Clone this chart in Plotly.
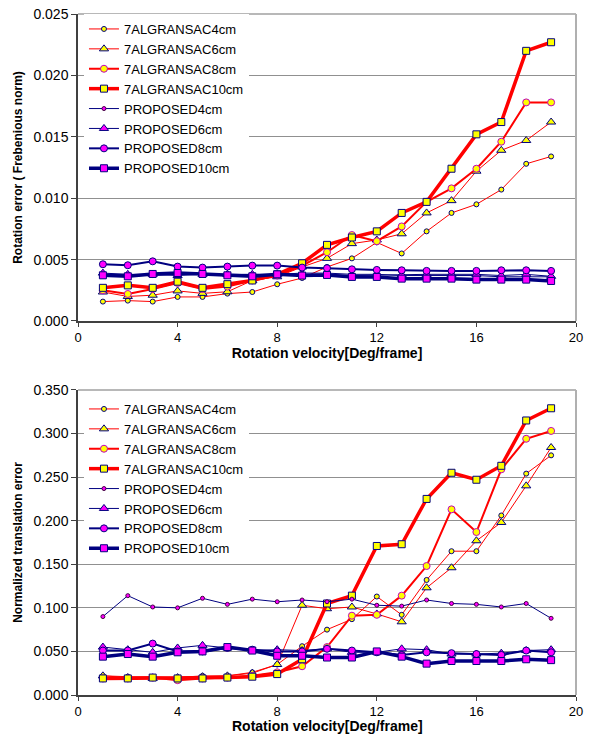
import plotly.graph_objects as go

# ---------------- data ----------------
velocity = list(range(1, 20))

series_names = ["7ALGRANSAC4cm", "7ALGRANSAC6cm", "7ALGRANSAC8cm", "7ALGRANSAC10cm",
                "PROPOSED4cm", "PROPOSED6cm", "PROPOSED8cm", "PROPOSED10cm"]

rot_alg4 = [0.00158, 0.00166, 0.00158, 0.00196, 0.00196, 0.00223, 0.00236, 0.00299, 0.0035, 0.0044,
            0.0051, 0.0064, 0.0055, 0.0073, 0.0088, 0.0095, 0.0107, 0.0128, 0.0134]
rot_alg6 = [0.00236, 0.0020, 0.0021, 0.00245, 0.00225, 0.00238, 0.0033, 0.0036, 0.0044, 0.0051,
            0.0063, 0.0066, 0.0071, 0.0088, 0.0098, 0.0122, 0.0139, 0.0147, 0.0162]
rot_alg8 = [0.0025, 0.0022, 0.0026, 0.0031, 0.0026, 0.0028, 0.0033, 0.0037, 0.0045, 0.0056,
            0.0070, 0.0065, 0.0077, 0.0097, 0.0108, 0.0124, 0.0146, 0.0178, 0.0178]
rot_alg10 = [0.0027, 0.0029, 0.0027, 0.0032, 0.0027, 0.0030, 0.0033, 0.0038, 0.0047, 0.0062,
             0.0068, 0.0073, 0.0088, 0.0097, 0.0124, 0.0152, 0.0162, 0.0220, 0.0227]
rot_p4 = [0.0038, 0.0038, 0.0037, 0.0038, 0.0038, 0.0037, 0.0038, 0.0038, 0.0039, 0.0039,
          0.0038, 0.0038, 0.0037, 0.0037, 0.0037, 0.0037, 0.0036, 0.0036, 0.0036]
rot_p6 = [0.0039, 0.0038, 0.0038, 0.0037, 0.0038, 0.0038, 0.0038, 0.0038, 0.0038, 0.0038,
          0.0037, 0.00375, 0.00375, 0.0038, 0.0038, 0.0038, 0.0037, 0.0038, 0.00364]
rot_p8 = [0.00462, 0.00454, 0.00486, 0.00443, 0.00435, 0.00443, 0.00451, 0.00451, 0.00435, 0.0043,
          0.00421, 0.00416, 0.00413, 0.00408, 0.00408, 0.00408, 0.00413, 0.00413, 0.00408]
rot_p10 = [0.00372, 0.00364, 0.00383, 0.00391, 0.00383, 0.00372, 0.00364, 0.0038, 0.0037, 0.00375,
           0.00359, 0.00359, 0.00345, 0.00345, 0.00345, 0.00337, 0.00337, 0.00337, 0.00326]

tr_alg4 = [0.022, 0.021, 0.021, 0.020, 0.022, 0.022, 0.026, 0.035, 0.056, 0.075,
           0.087, 0.113, 0.092, 0.132, 0.165, 0.165, 0.206, 0.254, 0.275]
tr_alg6 = [0.022, 0.020, 0.019, 0.020, 0.021, 0.022, 0.025, 0.035, 0.103, 0.099,
           0.101, 0.093, 0.084, 0.123, 0.146, 0.177, 0.198, 0.240, 0.284]
tr_alg8 = [0.019, 0.019, 0.020, 0.017, 0.019, 0.020, 0.022, 0.026, 0.033, 0.055,
           0.091, 0.092, 0.114, 0.148, 0.213, 0.187, 0.259, 0.294, 0.303]
tr_alg10 = [0.019, 0.019, 0.020, 0.019, 0.019, 0.020, 0.021, 0.024, 0.041, 0.105,
            0.114, 0.171, 0.173, 0.225, 0.255, 0.247, 0.263, 0.315, 0.329]
tr_p4 = [0.090, 0.114, 0.101, 0.100, 0.111, 0.104, 0.110, 0.107, 0.109, 0.107,
         0.110, 0.103, 0.102, 0.109, 0.105, 0.104, 0.101, 0.105, 0.088]
tr_p6 = [0.055, 0.052, 0.049, 0.054, 0.057, 0.054, 0.051, 0.052, 0.051, 0.053,
         0.049, 0.049, 0.053, 0.052, 0.047, 0.047, 0.048, 0.051, 0.052]
tr_p8 = [0.051, 0.051, 0.059, 0.050, 0.050, 0.054, 0.052, 0.050, 0.050, 0.053,
         0.051, 0.049, 0.046, 0.049, 0.048, 0.047, 0.046, 0.051, 0.049]
tr_p10 = [0.044, 0.047, 0.044, 0.049, 0.050, 0.055, 0.051, 0.045, 0.045, 0.043,
          0.043, 0.050, 0.044, 0.036, 0.039, 0.039, 0.039, 0.041, 0.040]

x_ticks = [0, 4, 8, 12, 16, 20]
rot_ticks = [0.000, 0.005, 0.010, 0.015, 0.020, 0.025]
tr_ticks = [0.000, 0.050, 0.100, 0.150, 0.200, 0.250, 0.300, 0.350]

x_title = "Rotation velocity[Deg/frame]"

# ---------------- styles ----------------
RED = "#FF0000"
NAVY = "#000080"
YEL = "#FFFF00"
MAG = "#FF00FF"
styles = [
    dict(line=dict(color=RED, width=1), marker=dict(symbol="circle", size=5, color=YEL, line=dict(color=NAVY, width=1))),
    dict(line=dict(color=RED, width=1), marker=dict(symbol="triangle-up", size=8, color=YEL, line=dict(color=NAVY, width=1))),
    dict(line=dict(color=RED, width=2), marker=dict(symbol="circle", size=7, color=YEL, line=dict(color="#C000C0", width=1))),
    dict(line=dict(color=RED, width=3.5), marker=dict(symbol="square", size=7, color=YEL, line=dict(color=NAVY, width=1))),
    dict(line=dict(color=NAVY, width=1), marker=dict(symbol="circle", size=4, color=MAG, line=dict(color="#400040", width=1))),
    dict(line=dict(color=NAVY, width=1), marker=dict(symbol="triangle-up", size=8, color=MAG, line=dict(color=NAVY, width=1))),
    dict(line=dict(color=NAVY, width=2), marker=dict(symbol="circle", size=7, color=MAG, line=dict(color=NAVY, width=1))),
    dict(line=dict(color=NAVY, width=3.5), marker=dict(symbol="square", size=7, color=MAG, line=dict(color=NAVY, width=1))),
]

rot_data = [rot_alg4, rot_alg6, rot_alg8, rot_alg10, rot_p4, rot_p6, rot_p8, rot_p10]
tr_data = [tr_alg4, tr_alg6, tr_alg8, tr_alg10, tr_p4, tr_p6, tr_p8, tr_p10]

fig = go.Figure()
for name, vals, st in zip(series_names, rot_data, styles):
    fig.add_trace(go.Scatter(x=velocity, y=vals, name=name, mode="lines+markers",
                             xaxis="x", yaxis="y", legend="legend", **st))
for name, vals, st in zip(series_names, tr_data, styles):
    fig.add_trace(go.Scatter(x=velocity, y=vals, name=name, mode="lines+markers",
                             xaxis="x2", yaxis="y2", legend="legend2", **st))

FONT = "Liberation Sans, Arial, sans-serif"
axis_common = dict(showline=True, linecolor="#404040", linewidth=1.5, ticks="outside",
                   ticklen=5, tickcolor="#404040", tickfont=dict(family=FONT, size=14, color="#000"),
                   zeroline=False, automargin=False)

xcommon = dict(axis_common, range=[0, 20], tickvals=x_ticks, showgrid=False, ticklen=4,
               tickfont=dict(family=FONT, size=13, color="#000"))

fig.update_layout(
    width=591, height=735,
    margin=dict(l=78, r=15, t=14, b=40, autoexpand=False),
    paper_bgcolor="white", plot_bgcolor="white",
    font=dict(family=FONT, color="#000"),
    showlegend=True,
    xaxis=dict(xcommon, domain=[0, 1], anchor="y",
               title=dict(text="<b>" + x_title + "</b>", font=dict(size=14), standoff=3)),
    yaxis=dict(axis_common, domain=[0.5492, 1], anchor="x", range=[0, 0.025], tickvals=rot_ticks,
               tickformat=".3f", showgrid=True, gridcolor="#909090", gridwidth=1,
               title=dict(text="<b>Rotation error ( Frebenious norm)</b>", font=dict(size=12), standoff=8)),
    xaxis2=dict(xcommon, domain=[0, 1], anchor="y2"),
    yaxis2=dict(axis_common, domain=[0, 0.4479], anchor="x2", range=[0, 0.35], tickvals=tr_ticks,
                tickformat=".3f", showgrid=True, gridcolor="#909090", gridwidth=1,
                title=dict(text="<b>Normalized translation error</b>", font=dict(size=12), standoff=8)),
    legend=dict(x=0.012, y=1.0, xanchor="left", yanchor="top", bgcolor="white",
                font=dict(family=FONT, size=13), tracegroupgap=0),
    legend2=dict(x=0.012, y=0.442, xanchor="left", yanchor="top", bgcolor="white",
                 font=dict(family=FONT, size=13), tracegroupgap=0),
    annotations=[
        dict(text="<b>" + x_title + "</b>", xref="paper", yref="paper", x=0.5, y=-40 / 681,
             xanchor="center", yanchor="bottom", showarrow=False, borderpad=0,
             font=dict(family=FONT, size=14, color="#000")),
    ],
    shapes=[
        dict(type="line", xref="x domain", yref="y domain", x0=0, x1=1, y0=1, y1=1,
             line=dict(color="#A0A0A0", width=1.5)),
        dict(type="line", xref="x domain", yref="y domain", x0=1, x1=1, y0=0, y1=1,
             line=dict(color="#B0B0B0", width=2)),
        dict(type="line", xref="x2 domain", yref="y2 domain", x0=0, x1=1, y0=1, y1=1,
             line=dict(color="#A0A0A0", width=1.5)),
        dict(type="line", xref="x2 domain", yref="y2 domain", x0=1, x1=1, y0=0, y1=1,
             line=dict(color="#B0B0B0", width=2)),
    ],
)

fig.write_html("out.html", config={"displayModeBar": False},
               post_script="document.body.style.margin='0';document.body.style.overflow='hidden';")
